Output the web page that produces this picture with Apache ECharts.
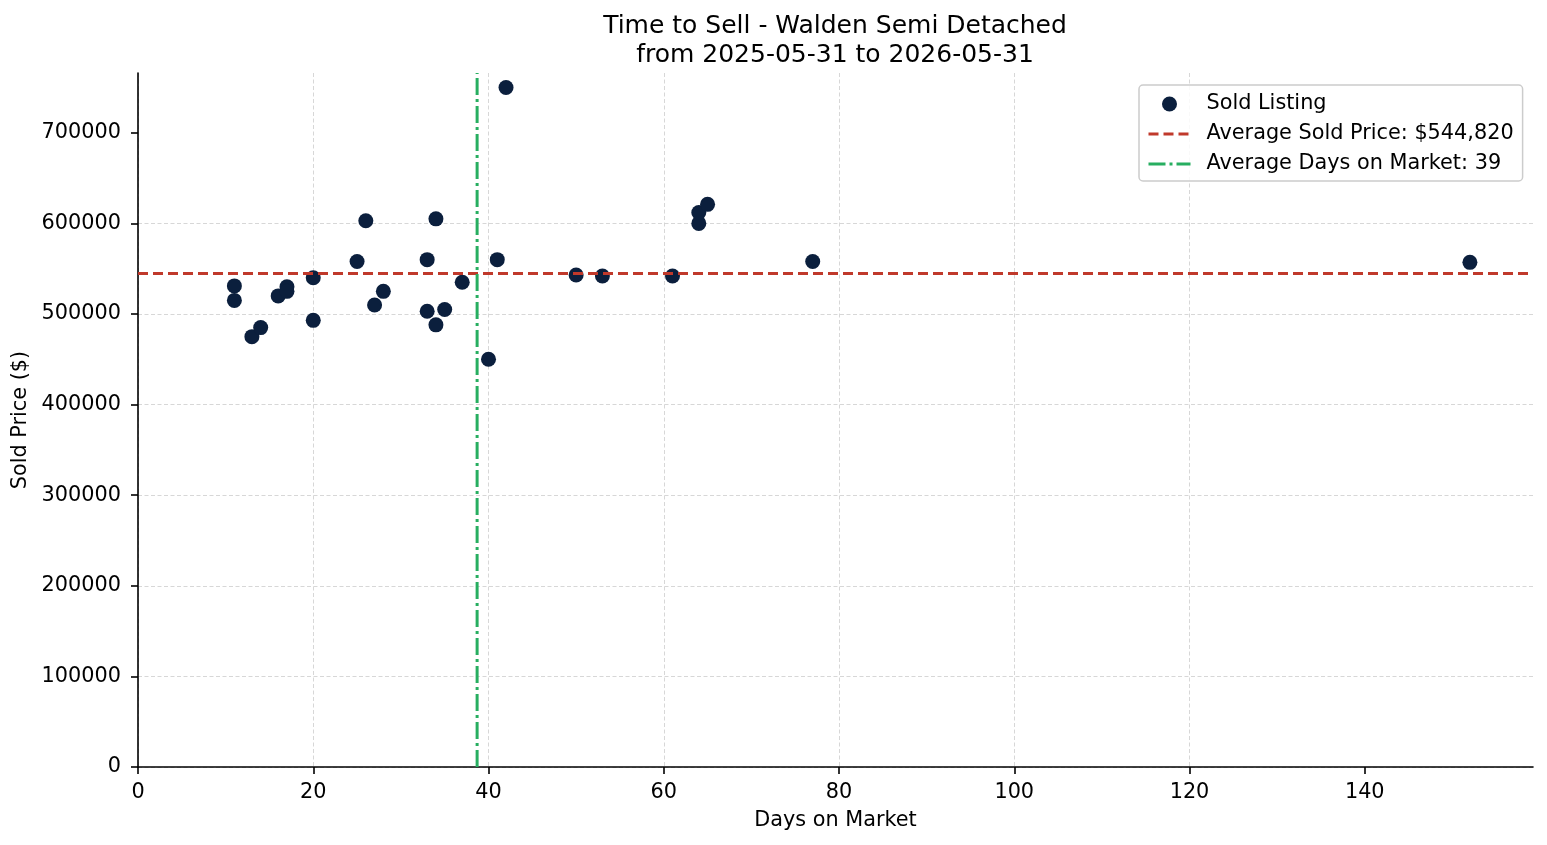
<!DOCTYPE html>
<html>
<head>
<meta charset="utf-8">
<title>Time to Sell - Walden Semi Detached</title>
<script src="https://cdn.jsdelivr.net/npm/echarts@6/dist/echarts.min.js"></script>
<style>
  html, body { margin: 0; padding: 0; background: #fff; }
  #main { width: 1547px; height: 845px; }
</style>
</head>
<body>
<div id="main"></div>
<script>
// sold listings: days on market / sold price
var days = [11, 11, 13, 14, 16, 17, 17, 20, 20, 25, 26, 27, 28, 33, 33, 34, 34, 35, 37, 40,
            41, 42, 50, 53, 61, 64, 64, 65, 77, 152];
var prices = [531000, 515000, 475000, 485000, 520000, 530000, 525000, 540000, 493000, 558000,
              603000, 510000, 525000, 560000, 503000, 605000, 488000, 505000, 535000, 450000,
              560000, 750000, 543000, 542000, 542000, 600000, 612000, 621000, 558000, 557000];
var avgPrice = 544820;   // legend value
var avgDays = 38.7;      // shown as 39 in legend
var xTicks = [0, 20, 40, 60, 80, 100, 120, 140];
var yTicks = [0, 100000, 200000, 300000, 400000, 500000, 600000, 700000];
var xMax = 159.2;
var yMax = 766000;

var FONT = 'DejaVu Sans';
var FS = 20.8;

var points = [];
for (var i = 0; i < days.length; i++) {
    points.push([days[i], prices[i]]);
}

var myChart = echarts.init(document.getElementById('main'));

var option = {
    animation: false,
    backgroundColor: '#fff',
    textStyle: { fontFamily: FONT },
    title: {
        text: 'Time to Sell - Walden Semi Detached\nfrom 2025-05-31 to 2026-05-31',
        left: 830,
        top: 7,
        textAlign: 'center',
        textStyle: {
            fontFamily: FONT,
            fontSize: 25,
            fontWeight: 'normal',
            color: '#000',
            lineHeight: 29
        }
    },
    legend: {
        left: 1139,
        top: 85,
        orient: 'vertical',
        padding: [7, 9, 5, 8],
        itemWidth: 42,
        itemHeight: 15,
        itemGap: 6,
        backgroundColor: 'rgba(255,255,255,0.85)',
        borderColor: '#cccccc',
        borderWidth: 1.5,
        borderRadius: 4,
        textStyle: { fontFamily: FONT, fontSize: FS, color: '#000', lineHeight: 24, padding: [0, 0, 0, 11] },
        data: [
            { name: 'Sold Listing', icon: 'circle' },
            { name: 'Average Sold Price: $544,820', itemStyle: { opacity: 0 }, lineStyle: { width: 3 } },
            { name: 'Average Days on Market: 39', itemStyle: { opacity: 0 }, lineStyle: { width: 3 } }
        ]
    },
    grid: {
        left: 138,
        right: 14,
        top: 73,
        bottom: 78,
        containLabel: false,
        outerBoundsMode: 'none'
    },
    xAxis: {
        type: 'value',
        min: 0,
        max: xMax,
        interval: 20,
        name: 'Days on Market',
        nameLocation: 'middle',
        nameGap: 43,
        nameTextStyle: { fontFamily: FONT, fontSize: FS, color: '#000' },
        axisLine: { show: true, onZero: false, lineStyle: { color: '#000', width: 1.6 } },
        axisTick: { show: true, length: 7, lineStyle: { color: '#000', width: 1.6 }, customValues: xTicks },
        axisLabel: { fontFamily: FONT, fontSize: FS, color: '#000', margin: 15, customValues: xTicks },
        splitLine: {
            show: true,
            showMaxLine: false,
            lineStyle: { color: '#d2d2d2', width: 0.9, type: [4, 2.5] }
        }
    },
    yAxis: {
        type: 'value',
        min: 0,
        max: yMax,
        interval: 100000,
        name: 'Sold Price ($)',
        nameLocation: 'middle',
        nameRotate: 90,
        nameGap: 95,
        nameTextStyle: { fontFamily: FONT, fontSize: FS, color: '#000' },
        axisLine: { show: true, onZero: false, lineStyle: { color: '#000', width: 1.6 } },
        axisTick: { show: true, length: 7, lineStyle: { color: '#000', width: 1.6 }, customValues: yTicks },
        axisLabel: {
            fontFamily: FONT, fontSize: FS, color: '#000', margin: 17, customValues: yTicks,
            formatter: function (v) { return String(v); }
        },
        splitLine: {
            show: true,
            showMaxLine: false,
            lineStyle: { color: '#d2d2d2', width: 0.9, type: [4, 2.5] }
        }
    },
    series: [
        {
            name: 'Sold Listing',
            type: 'scatter',
            symbol: 'circle',
            symbolSize: 15,
            itemStyle: { color: '#0b1f3d', opacity: 1 },
            z: 2,
            data: points
        },
        {
            name: 'Average Sold Price: $544,820',
            type: 'line',
            symbol: 'none',
            showSymbol: false,
            z: 3,
            lineStyle: { color: '#c0392b', width: 3, type: [10, 5] },
            itemStyle: { color: '#c0392b' },
            data: [[0, avgPrice], [xMax, avgPrice]]
        },
        {
            name: 'Average Days on Market: 39',
            type: 'line',
            symbol: 'none',
            showSymbol: false,
            z: 3,
            lineStyle: { color: '#27ae60', width: 3, type: [17, 4, 3, 4] },
            itemStyle: { color: '#27ae60' },
            data: [[avgDays, 0], [avgDays, yMax]]
        }
    ]
};

myChart.setOption(option, true);
</script>
</body>
</html>
